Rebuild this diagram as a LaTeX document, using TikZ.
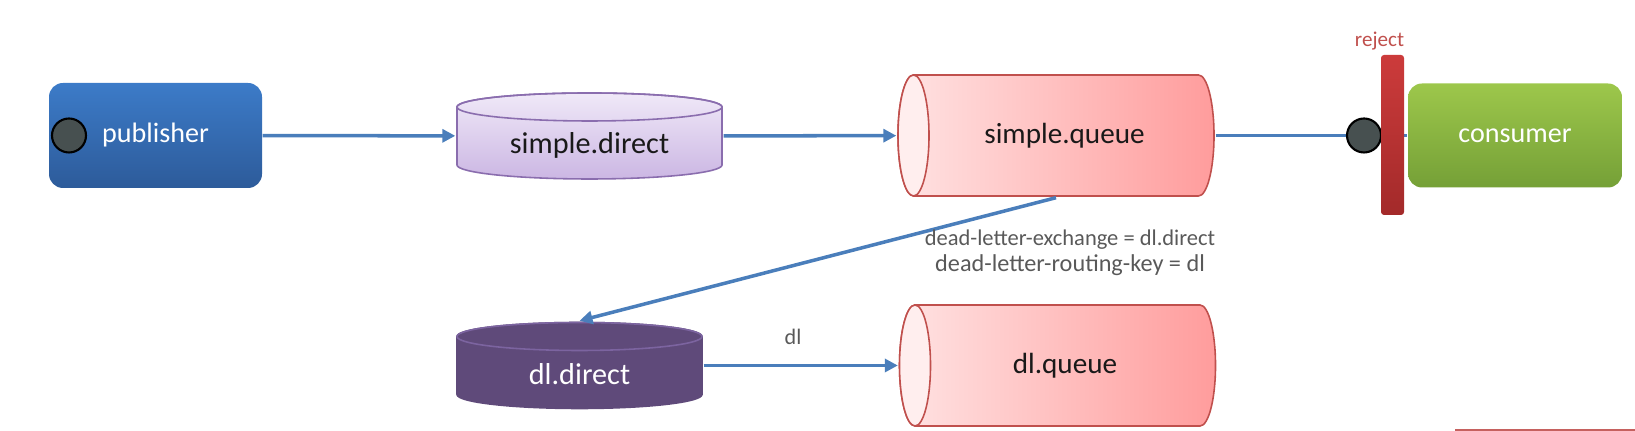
\documentclass[tikz,border=0pt]{standalone}
\usepackage{fontspec}
\setmainfont{Carlito}
\usepackage{tikz}
\usetikzlibrary{arrows.meta, positioning, calc, backgrounds}
\definecolor{flowblue}{HTML}{4A7EBB}
\definecolor{pubtop}{HTML}{3C7BC8}
\definecolor{pubbot}{HTML}{2D5B9A}
\definecolor{contop}{HTML}{9DC74B}
\definecolor{conbot}{HTML}{75A037}
\definecolor{portgray}{HTML}{475050}
\definecolor{xtop}{HTML}{F0E9F8}
\definecolor{xbot}{HTML}{CBB6E3}
\definecolor{xline}{HTML}{8A6DAE}
\definecolor{dlfill}{HTML}{5F4A7A}
\definecolor{dlrim}{HTML}{7C64A0}
\definecolor{qleft}{HTML}{FFE3E3}
\definecolor{qright}{HTML}{FF9C9C}
\definecolor{qcap}{HTML}{FFEEEE}
\definecolor{qline}{HTML}{C0504D}
\definecolor{rejtop}{HTML}{CC3B3B}
\definecolor{rejbot}{HTML}{A32A2A}
\definecolor{rejred}{HTML}{C0504D}
\definecolor{labelgray}{HTML}{595959}
\tikzset{
  % client boxes -- usage: svc={top colour}{bottom colour}
  svc/.style 2 args={rectangle, rounded corners=0.14cm, top color=#1, bottom color=#2,
                     draw=none, minimum width=2.13cm, minimum height=1.05cm, inner sep=0pt,
                     text=white, font=\fontsize{8}{10}\selectfont},
  % connection points on the clients
  port/.style={circle, fill=portgray, draw=black, line width=0.6pt,
               minimum size=0.34cm, inner sep=0pt},
  % exchanges (standing cylinders) -- usage: xchg={width}{top}{bottom}{outline}{rim}
  xchg/.style n args={5}{rectangle, minimum width=#1, minimum height=0.88cm, inner sep=0pt,
    path picture={
      \path[top color=#2, bottom color=#3, draw=#4, line width=0.45pt]
        ([shift={(0.01,-0.15)}]path picture bounding box.north west)
        -- ([shift={(0.01,0.15)}]path picture bounding box.south west)
        arc[start angle=180, end angle=360, x radius={#1/2-0.01cm}, y radius=0.14cm]
        -- ([shift={(-0.01,-0.15)}]path picture bounding box.north east)
        arc[start angle=0, end angle=180, x radius={#1/2-0.01cm}, y radius=0.14cm] -- cycle;
      \draw[#5, line width=0.45pt] ([yshift=-0.15cm]path picture bounding box.north)
        ellipse[x radius={#1/2-0.01cm}, y radius=0.14cm];
    }},
  xtext/.style={font=\fontsize{8.6}{10}\selectfont, text=black!90, yshift=-0.09cm},
  % queues (lying cylinders, open end on the left)
  queue/.style={rectangle, minimum width=3.18cm, minimum height=1.23cm, inner sep=0pt,
    path picture={
      \path[left color=qleft, right color=qright, draw=qline, line width=0.45pt]
        ([shift={(0.165,-0.01)}]path picture bounding box.north west)
        -- ([shift={(-0.165,-0.01)}]path picture bounding box.north east)
        arc[start angle=90, end angle=-90, x radius=0.155cm, y radius=0.605cm]
        -- ([shift={(0.165,0.01)}]path picture bounding box.south west)
        arc[start angle=270, end angle=90, x radius=0.155cm, y radius=0.605cm] -- cycle;
      \filldraw[fill=qcap, draw=qline, line width=0.45pt]
        ([xshift=0.165cm]path picture bounding box.west)
        ellipse[x radius=0.155cm, y radius=0.605cm];
    }},
  qtext/.style={font=\fontsize{8.3}{10}\selectfont, text=black!90, xshift=0.085cm},
  rejbar/.style={rectangle, rounded corners=0.03cm, top color=rejtop, bottom color=rejbot,
                 minimum width=0.23cm, minimum height=1.6cm, inner sep=0pt},
  % connectors
  flow/.style={draw=flowblue, line width=1pt, -{Triangle[length=0.13cm, width=0.13cm]}},
  wire/.style={draw=flowblue, line width=0.85pt},
  lbl/.style={font=\fontsize{6.3}{7}\selectfont, text=labelgray},
}

\begin{document}
\begin{tikzpicture}
\useasboundingbox (0,0) rectangle (16.35,4.31);

% ── Top row ──────────────────────────────────────────────────────────────────
\node[svc={pubtop}{pubbot}] (publisher) at (1.555,2.955) {publisher};
\node[port] (pubport) at (0.69,2.955) {};
\node[xchg={2.67cm}{xtop}{xbot}{xline}{xline},
      label={[xtext]center:simple.direct}] (sdirect) at (5.895,2.95) {};
\node[queue, label={[qtext]center:simple.queue}] (squeue) at (10.56,2.955) {};
\node[svc={contop}{conbot}, minimum width=2.14cm, minimum height=1.04cm]
  (consumer) at (15.15,2.955) {consumer};

% ── Bottom row ───────────────────────────────────────────────────────────────
\node[xchg={2.47cm}{dlfill}{dlfill}{dlfill}{dlrim},
      label={[xtext, text=white]center:dl.direct}] (dldirect) at (5.795,0.655) {};
\node[queue, label={[qtext, xshift=-0.01cm]center:dl.queue}] (dlqueue) at (10.575,0.655) {};

% ── Connections ──────────────────────────────────────────────────────────────
\draw[flow] (publisher) -- (sdirect);
\draw[flow] (sdirect) -- (squeue);
\draw[wire] (squeue) -- (consumer);

% consumer side: port and reject bar on top of the wire
\node[port] (conport) at (13.64,2.955) {};
\node[rejbar, label={[font=\fontsize{6}{7}\selectfont, text=rejred, xshift=-0.13cm,
      yshift=-0.08cm]above:reject}] (rejectbar) at (13.925,2.96) {};

% dead letters
\draw[flow] (squeue.south) -- (dldirect.north);
\node[lbl, align=center, font=\fontsize{6.6}{7.4}\selectfont] (dlargs) at (10.70,1.78)
  {{\fontsize{6.4}{7.4}\selectfont dead-letter-exchange = dl.direct}\\
   {\fontsize{6.9}{7.4}\selectfont dead-letter-routing-key = dl}};
\draw[flow] (dldirect) -- node[lbl, pos=0.46, above=2pt] {dl} (dlqueue);

% edge of the next slide element
\draw[draw=rejred!90!white, line width=0.6pt] (14.55,0.01) -- (16.35,0.01);

\end{tikzpicture}
\end{document}
